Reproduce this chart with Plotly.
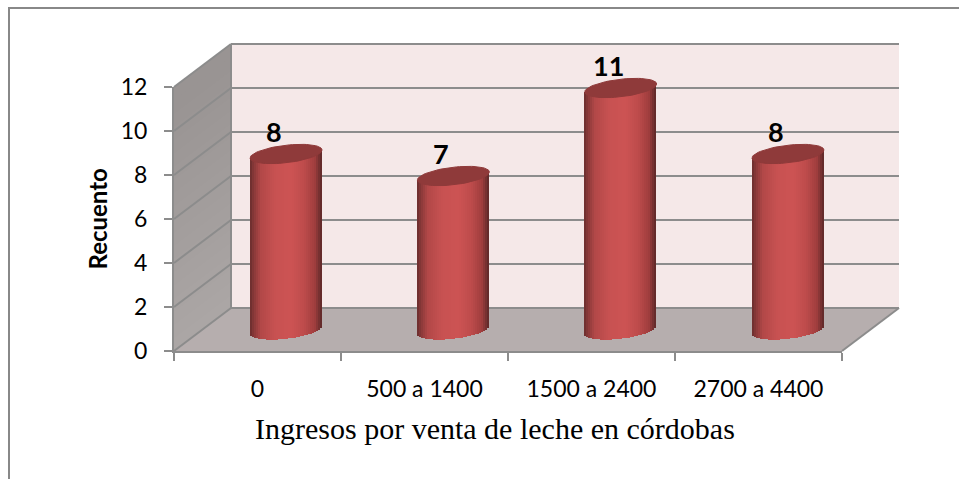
import numpy as np
import plotly.graph_objects as go

categories = ["0", "500 a 1400", "1500 a 2400", "2700 a 4400"]
values = [8, 7, 11, 8]
y_ticks = [0, 2, 4, 6, 8, 10, 12]
x_title = "Ingresos por venta de leche en córdobas"
y_title = "Recuento"

W, H = 959, 479
GRAY = "#8c8c8c"
# layout geometry in pixels
FRONT_L, FRONT_R, FRONT_B, FRONT_T = 174, 842, 351, 87
DX, DY = 57, -43
UNIT = (FRONT_B - FRONT_T) / 12
MID_L, MID_R = 202.4, 871.6
MID_ZERO = 330
MID_BOTTOM, MID_TOP = 346, 58
R_PX = 36
CAP_B = 8.8
TILT = 4

def px(x):
    return x / W
def py(y):
    return 1 - y / H

def poly(pts, fill):
    path = "M " + " L ".join(f"{px(a):.5f},{py(b):.5f}" for a, b in pts) + " Z"
    return dict(type="path", xref="paper", yref="paper", path=path, fillcolor=fill,
                line=dict(width=0), layer="below")

def seg(x0, y0, x1, y1, width=2, color=GRAY):
    return dict(type="line", xref="paper", yref="paper", x0=px(x0), y0=py(y0), x1=px(x1), y1=py(y1),
                line=dict(color=color, width=width), layer="below")

shapes = []
# back wall
shapes.append(poly([(FRONT_L + DX, FRONT_B + DY), (FRONT_R + DX, FRONT_B + DY),
                    (FRONT_R + DX, FRONT_T + DY), (FRONT_L + DX, FRONT_T + DY)], "#f5e8e8"))
# side wall, painted in overlapping bands from darker (top) to lighter (bottom)
bands = 20
c0, c1 = np.array([153, 148, 147]), np.array([172, 167, 166])
for i in range(bands):
    a = i / bands
    yf0 = FRONT_T + a * (FRONT_B - FRONT_T)
    c = c0 + (c1 - c0) * a
    shapes.append(poly([(FRONT_L, yf0), (FRONT_L + DX, yf0 + DY), (FRONT_L + DX, FRONT_B + DY), (FRONT_L, FRONT_B)],
                       f"rgb({int(c[0])},{int(c[1])},{int(c[2])})"))
# floor
shapes.append(poly([(FRONT_L, FRONT_B), (FRONT_R, FRONT_B), (FRONT_R + DX, FRONT_B + DY), (FRONT_L + DX, FRONT_B + DY)], "#b6aeae"))
# gridlines
for t in y_ticks:
    yf = FRONT_B - t * UNIT
    shapes.append(seg(FRONT_L, yf, FRONT_L + DX, yf + DY))
    shapes.append(seg(FRONT_L + DX, yf + DY, FRONT_R + DX, yf + DY))
shapes.append(seg(FRONT_L + DX, FRONT_T + DY, FRONT_L + DX, FRONT_B + DY))
shapes.append(seg(FRONT_R, FRONT_B, FRONT_R + DX, FRONT_B + DY))
# outer frame
shapes.append(seg(8, 8, W, 8, color="#888888"))
shapes.append(seg(9, 8, 9, H, color="#888888"))

fig = go.Figure()
# invisible trace holds the front axes
fig.add_trace(go.Scatter(x=categories, y=values, mode="lines", opacity=0, hoverinfo="skip",
                         xaxis="x", yaxis="y", showlegend=False))

# colour profile across the cylinder
prof_t = [-1.0, -0.9, -0.7, -0.3, 0.15, 0.5, 0.8, 0.93, 1.0]
prof_r = [105, 135, 178, 200, 205, 190, 160, 115, 92]
prof_g = [46, 56, 72, 82, 84, 76, 62, 48, 40]
prof_b = [46, 56, 72, 82, 84, 76, 62, 48, 40]

unit_x = (MID_R - MID_L) / 4
strips = 36
idx = list(range(len(categories)))
for s in range(strips):
    t0 = -1 + 2 * s / strips
    t1 = -1 + 2 * (s + 1) / strips
    tm = (t0 + t1) / 2
    low = (TILT * tm - CAP_B * np.sqrt(1 - tm ** 2)) / UNIT
    top = [v + TILT * tm / UNIT for v in values]
    col = f"rgb({int(np.interp(tm, prof_t, prof_r))},{int(np.interp(tm, prof_t, prof_g))},{int(np.interp(tm, prof_t, prof_b))})"
    fig.add_trace(go.Bar(x=idx, y=[tp - low for tp in top], base=[low] * len(idx),
                         offset=t0 * R_PX / unit_x, width=(t1 - t0) * R_PX / unit_x,
                         marker=dict(color=col, line=dict(width=0)),
                         xaxis="x2", yaxis="y2", showlegend=False, hoverinfo="skip"))

# cylinder caps
th = np.linspace(0, 2 * np.pi, 73)
for i, v in zip(idx, values):
    tt = np.cos(th)
    fig.add_trace(go.Scatter(x=i + tt * R_PX / unit_x,
                             y=v + (TILT * tt + CAP_B * np.sin(th)) / UNIT,
                             mode="lines", fill="toself", fillcolor="#8f3a3a",
                             line=dict(color="#8f3a3a", width=1),
                             xaxis="x2", yaxis="y2", showlegend=False, hoverinfo="skip"))

annotations = [dict(x=i, y=v, xref="x2", yref="y2", text=str(v), showarrow=False, xshift=-12, yshift=23,
                    font=dict(family="Lato", size=27, color="black", weight="bold"))
               for i, v in zip(idx, values)]
annotations.append(dict(x=px(494.5), y=py(428), xref="paper", yref="paper", xanchor="center", yanchor="middle",
                        text=x_title, showarrow=False,
                        font=dict(family="Liberation Serif", size=30, color="black")))
annotations.append(dict(x=px(96.5), y=py(219), xref="paper", yref="paper", xanchor="center", yanchor="middle",
                        text=y_title, showarrow=False, textangle=-90,
                        font=dict(family="Lato", size=24, color="black", weight="bold")))

fig.update_layout(
    width=W, height=H, margin=dict(l=0, r=0, t=0, b=0, autoexpand=False), autosize=False,
    paper_bgcolor="white", plot_bgcolor="rgba(0,0,0,0)", barmode="overlay", bargap=0,
    shapes=shapes, annotations=annotations,
    xaxis=dict(domain=[px(FRONT_L), px(FRONT_R)], type="category", range=[-0.5, 3.5],
               categoryorder="array", categoryarray=categories,
               tickson="boundaries", ticks="outside", ticklen=8, tickwidth=2, tickcolor=GRAY,
               showline=True, linecolor=GRAY, linewidth=2, showgrid=False, zeroline=False,
               ticklabelstandoff=16, tickfont=dict(family="Lato", size=23, color="black"), anchor="y"),
    yaxis=dict(domain=[py(FRONT_B), py(FRONT_T)], range=[0, 12], tickvals=y_ticks,
               ticks="outside", ticklen=8, tickwidth=2, tickcolor=GRAY,
               showline=True, linecolor=GRAY, linewidth=2, showgrid=False, zeroline=False,
               ticklabelstandoff=12, tickfont=dict(family="Lato", size=23, color="black"), anchor="x"),
    xaxis2=dict(domain=[px(MID_L), px(MID_R)], range=[-0.5, 3.5], visible=False, anchor="y2"),
    yaxis2=dict(domain=[py(MID_BOTTOM), py(MID_TOP)],
                range=[(MID_ZERO - MID_BOTTOM) / UNIT, (MID_ZERO - MID_TOP) / UNIT], visible=False, anchor="x2"),
)

fig.write_html("out.html", config=dict(displayModeBar=False),
               post_script="document.body.style.margin='0';document.body.style.overflow='hidden';")
